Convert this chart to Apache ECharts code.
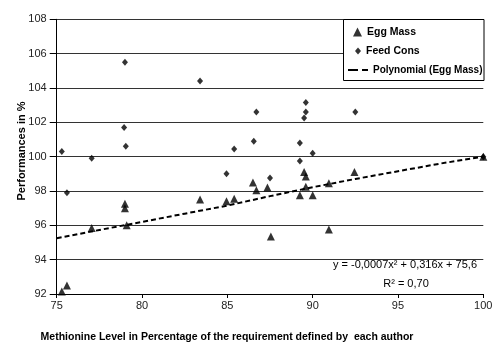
<!DOCTYPE html>
<html>
<head>
<meta charset="utf-8">
<script src="https://cdn.jsdelivr.net/npm/echarts@6/dist/echarts.min.js"></script>
<style>html,body{margin:0;padding:0;background:#fff;}#c{width:500px;height:357px;}</style>
</head>
<body>
<div id="c"></div>
<script>
const eggMassX = [75.3, 75.6, 77.05, 79.0, 79.0, 79.1, 83.4, 84.95, 85.4, 86.5, 86.7, 87.35, 87.55, 89.25, 89.5, 89.6, 89.6, 90.0, 90.95, 90.95, 92.45, 100];
const eggMassY = [92.15, 92.5, 95.85, 97.25, 97.0, 96.0, 97.5, 97.4, 97.55, 98.5, 98.05, 98.2, 95.35, 97.75, 99.1, 98.85, 98.25, 97.75, 98.45, 95.75, 99.1, 100];
const feedConsX = [75.3, 75.6, 77.05, 79.0, 78.95, 79.05, 83.4, 84.95, 85.4, 86.55, 86.7, 87.5, 89.25, 89.25, 89.5, 89.6, 89.6, 90.0, 92.5, 100];
const feedConsY = [100.3, 97.9, 99.9, 105.5, 101.7, 100.6, 104.4, 99.0, 100.45, 100.9, 102.6, 98.75, 100.8, 99.75, 102.25, 102.6, 103.15, 100.2, 102.6, 100];
const trendX = [75, 77.5, 80, 82.5, 85, 87.5, 90, 92.5, 95, 97.5, 100];
const trendY = [95.25, 95.73, 96.2, 96.68, 97.15, 97.7, 98.22, 98.7, 99.15, 99.6, 100];
const xTicks = [75, 80, 85, 90, 95, 100];
const yTicks = [92, 94, 96, 98, 100, 102, 104, 106, 108];
const seriesNames = ['Egg Mass', 'Feed Cons', 'Polynomial (Egg Mass)'];
const xTitle = 'Methionine Level in Percentage of the requirement defined by  each author';
const yTitle = 'Performances in %';
const eqText = 'y = -0,0007x\u00B2 + 0,316x + 75,6';
const r2Text = 'R\u00B2 = 0,70';

const zip = (a, b) => a.map((v, i) => [v, b[i]]);
const FONT = 'Liberation Sans, Arial, sans-serif';
const chart = echarts.init(document.getElementById('c'), null, {renderer: 'canvas'});
const legendBase = {
  orient: 'vertical', itemHeight: 9, padding: 0, symbolKeepAspect: false,
  textStyle: {fontFamily: FONT, fontWeight: 'bold', fontSize: 10.5, color: '#000'},
  selectedMode: false
};
chart.setOption({
  animation: false,
  backgroundColor: '#fff',
  grid: {left: 56.7, right: 16.7, top: 19.3, bottom: 63, containLabel: false},
  xAxis: {
    type: 'value', min: xTicks[0], max: xTicks[xTicks.length - 1], interval: 5,
    axisLine: {show: true, lineStyle: {color: '#000', width: 1}},
    axisTick: {show: true, length: 4, inside: false, lineStyle: {color: '#000'}},
    axisLabel: {fontFamily: FONT, fontSize: 11, color: '#222', margin: 6},
    splitLine: {show: false}
  },
  yAxis: {
    type: 'value', min: yTicks[0], max: yTicks[yTicks.length - 1], interval: 2,
    axisLine: {show: true, lineStyle: {color: '#000', width: 1}},
    axisTick: {show: true, length: 7, lineStyle: {color: '#000'}},
    axisLabel: {fontFamily: FONT, fontSize: 11, color: '#222', margin: 10},
    splitLine: {show: true, lineStyle: {color: '#333', width: 1}}
  },
  legend: [
    Object.assign({}, legendBase, {data: [{name: seriesNames[0], icon: 'triangle'}], left: 353, top: 26.5, itemWidth: 9}),
    Object.assign({}, legendBase, {data: [{name: seriesNames[1], icon: 'diamond'}], left: 355, top: 45.5, itemWidth: 6, itemHeight: 7}),
    Object.assign({}, legendBase, {
      data: [{name: seriesNames[2], icon: 'path://M0,0H10V2H0Z M14,0H20V2H14Z'}],
      left: 348, top: 65, itemWidth: 20, itemHeight: 2,
      textStyle: {fontFamily: FONT, fontWeight: 'bold', fontSize: 10, color: '#000'}
    })
  ],
  graphic: [
    {type: 'rect', shape: {x: 343.5, y: 19.5, width: 140.5, height: 61}, style: {fill: '#fff', stroke: '#000', lineWidth: 1}, z: 1, silent: true},
    {type: 'text', x: 405, y: 264.5, style: {text: eqText, fontFamily: FONT, fontSize: 11, fill: '#000', align: 'center', verticalAlign: 'middle'}, z: 100},
    {type: 'text', x: 406, y: 283.5, style: {text: r2Text, fontFamily: FONT, fontSize: 11, fill: '#000', align: 'center', verticalAlign: 'middle'}, z: 100},
    {type: 'text', x: 227, y: 337, style: {text: xTitle, fontFamily: FONT, fontSize: 10.5, fontWeight: 'bold', fill: '#000', align: 'center', verticalAlign: 'middle'}},
    {type: 'text', x: 22, y: 151, rotation: Math.PI / 2, style: {text: yTitle, fontFamily: FONT, fontSize: 11, fontWeight: 'bold', fill: '#000', align: 'center', verticalAlign: 'middle'}}
  ],
  series: [
    {name: seriesNames[0], type: 'scatter', symbol: 'triangle', symbolSize: [8, 8], data: zip(eggMassX, eggMassY), itemStyle: {color: '#000'}, z: 3},
    {name: seriesNames[1], type: 'scatter', symbol: 'diamond', symbolSize: [6, 7], data: zip(feedConsX, feedConsY), itemStyle: {color: '#000'}, z: 3},
    {name: seriesNames[2], type: 'line', smooth: false, showSymbol: false, symbol: 'none', data: zip(trendX, trendY), lineStyle: {color: '#000', width: 2, type: [5, 3]}, itemStyle: {color: '#000'}, z: 2}
  ]
});
</script>
</body>
</html>
